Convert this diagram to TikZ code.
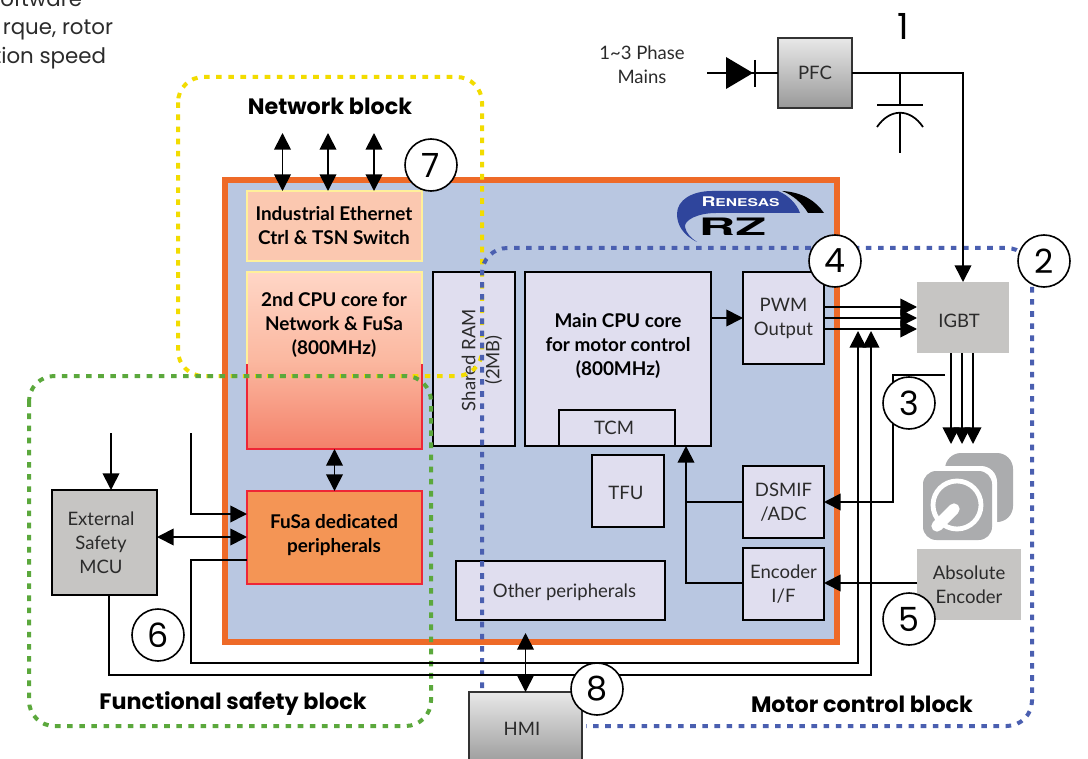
\documentclass[tikz,border=0pt]{standalone}
\usepackage{fontspec}
\usepackage{graphicx}
\setmainfont{Lato}
\newfontfamily\popf{Poppins}
\newfontfamily\heros{TeX Gyre Heros}
\usetikzlibrary{arrows.meta}
\definecolor{socfill}{HTML}{B9C7E1}
\definecolor{socedge}{HTML}{EE6A28}
\definecolor{lilac}{HTML}{E0DEEF}
\definecolor{lgray}{HTML}{C6C5C3}
\definecolor{paleyel}{HTML}{FFF09A}
\definecolor{fusared}{HTML}{EE2636}
\definecolor{fusafill}{HTML}{F49555}
\definecolor{ethfill}{HTML}{FBC8B0}
\definecolor{cputop}{HTML}{FFD6C6}
\definecolor{cpumid}{HTML}{FBB8A0}
\definecolor{cpubot}{HTML}{F4816A}
\definecolor{dotyel}{HTML}{F2DC00}
\definecolor{dotgrn}{HTML}{5BA83C}
\definecolor{dotblu}{HTML}{4A5FB0}
\definecolor{rblue}{HTML}{2F459C}
\definecolor{motorg}{HTML}{ABACAE}
\definecolor{txt}{HTML}{2B2B2B}
\tikzset{
  x=0.75pt,y=-0.75pt,
  every node/.style={inner sep=0pt,outer sep=0pt,text=txt},
  thin box/.style={draw=black,line width=1.4pt,fill=lilac},
  gray box/.style={fill=lgray},
  grad box/.style={draw=black!80,line width=1.5pt,top color=black!9,bottom color=black!40},
  body/.style={font=\fontsize{13.9}{18}\selectfont,align=center},
  strong/.style={font=\fontsize{14.2}{18}\selectfont\bfseries,align=center,text=black},
  title/.style={font=\popf\fontsize{16.7}{18}\selectfont\bfseries,text=black},
  num/.style={circle,draw=black,line width=1.2pt,fill=white,minimum size=39pt,font=\popf\fontsize{25}{25}\selectfont,text=black},
  wire/.style={draw=black,line width=1.3pt},
  tip/.tip={Triangle[length=12.5pt,width=12.5pt]},
  dotted path/.style={line width=3pt,dash pattern=on 4.2pt off 4.9pt,rounded corners=19pt},
}
\newcommand\bx[7][]{\node[#1,minimum width={(#5-#3)*0.75pt},minimum height={(#6-#4)*0.75pt}] (#2) at ({(#3+#5)/2},{(#4+#6)/2}) {#7};}
\begin{document}
\begin{tikzpicture}
\clip (0,0) rectangle (1088,759);
\fill[white] (0,0) rectangle (1088,759);
% cropped text at top left
\node[anchor=base east,font=\popf\fontsize{16}{18}\selectfont] (t1) at (82,7) {oftware};
\node[anchor=base east,font=\popf\fontsize{16}{18}\selectfont] (t2) at (113,35) {rque, rotor};
\node[anchor=base east,font=\popf\fontsize{16}{18}\selectfont] (t3) at (106,64) {tion speed};
% SoC
\bx[draw=socedge,line width=4.5pt,fill=socfill]{soc}{225}{180}{837}{642}{}
% logo
\fill[rblue] (697,242) .. controls (683,235) and (677,225) .. (677,214) .. controls (677,200) and (692,191) .. (712,191) -- (778,191) .. controls (788,195) and (797,204) .. (800,213) -- (716,213) .. controls (698,213) and (684,220) .. (685,227) .. controls (686,233) and (691,238) .. (697,242) -- cycle;
\fill[black] (782,191) .. controls (802,192) and (816,201) .. (824,213) -- (808,213) .. controls (802,203) and (793,195) .. (782,191) -- cycle;
\node[font=\heros\fontsize{10.5}{12}\selectfont\bfseries,text=white] (renesas) at (740.5,202) {\scalebox{1.38}[0.95]{R\fontsize{8.5}{10}\selectfont ENESAS}};
\node[font=\heros\fontsize{18}{18}\selectfont\bfseries,text=black] (rz) at (732.5,227) {\scalebox{2.1}[1]{RZ}};
% boxes
\bx[draw=paleyel,line width=1.4pt,fill=ethfill,strong]{eth}{247}{191}{422}{261}{}
\node[strong] (ethl) at (334,226) {Industrial Ethernet\\Ctrl \& TSN Switch};
\bx[top color=cputop,bottom color=cpubot,middle color=cpumid]{cpub}{247}{272}{422}{449}{}
\draw[draw=paleyel,line width=1.4pt] (cpub.south west |- 0,364) -- (cpub.north west) -- (cpub.north east) -- (cpub.south east |- 0,364);
\draw[draw=fusared,line width=1.4pt] (cpub.south west |- 0,364) -- (cpub.south west) -- (cpub.south east) -- (cpub.south east |- 0,364);
\node[strong] (cpubl) at (334,324.5) {2nd CPU core for\\Network \& FuSa\\(800MHz)};
\bx[draw=fusared,line width=1.4pt,fill=fusafill,strong]{fusa}{247}{491}{422}{584}{}
\node[strong] (fusal) at (334,535.5) {FuSa dedicated\\peripherals};
\bx[thin box]{ram}{433}{272}{515}{446}{}
\node[body,rotate=90] (raml) at (482,360) {Shared RAM\\(2MB)};
\bx[thin box]{main}{525}{272}{711}{446}{}
\node[strong] (mainl) at (618,345.5) {Main CPU core\\for motor control\\(800MHz)};
\bx[thin box,body]{tcm}{559}{410}{675}{446}{}
\node[body] (tcml) at (614,428) {TCM};
\bx[thin box,body]{tfu}{592}{455}{664}{527}{}
\node[body] (tful) at (626,492.5) {TFU};
\bx[thin box,body]{other}{456}{561}{665}{620}{}
\node[body] (otherl) at (564.5,592) {Other peripherals};
\bx[thin box,body]{pwm}{743}{272}{824}{364}{PWM\\Output}
\bx[thin box,body]{dsmif}{743}{466}{824}{538}{DSMIF\\/ADC}
\bx[thin box,body]{enc}{743}{548}{824}{620}{Encoder\\I/F}
\bx[gray box,body]{igbt}{917}{282}{1009}{353}{}
\node[body] (igbtl) at (959,321) {IGBT};
\bx[gray box,body]{abs}{917}{549}{1021}{620}{Absolute\\Encoder}
\bx[grad box,body]{pfc}{778}{38}{852}{108}{PFC}
\bx[grad box,body]{hmi}{469}{692}{582}{766}{}
\node[body] (hmil) at (522,729) {HMI};
\bx[draw=black,line width=1.5pt,fill=lgray,body]{mcu}{52}{490}{157}{595}{}
\node[body] (mcul) at (101,543) {External\\Safety\\MCU};
% text outside boxes
\node[body] (mains) at (642,64.5) {1\textasciitilde3 Phase\\Mains};
\node[font=\popf\fontsize{27}{27}\selectfont,text=black] (one) at (903,26) {1};
% motor icon
\fill[motorg,rounded corners=12pt] (945,453) rectangle (1013,522);
\fill[white,rounded corners=12pt] (918,466) rectangle (997,545);
\fill[motorg,rounded corners=10pt] (923,471) rectangle (992,540);
\node[circle,draw=white,line width=3.6pt,minimum size=36pt] (rotor) at (957,505) {};
\draw[white,line width=8.5pt,line cap=round] (937,526) -- (954,509);
% dotted regions
\draw[dotyel,dotted path] (178,77) rectangle (482,376);
\draw[dotgrn,dotted path] (29,376) rectangle (431,726);
\draw[dotblu,dotted path] (482,688) -- (482,248) -- (1032,248) -- (1032,726) -- (586,726);
% power path
\coordinate (mainsin) at (707,73);
\draw[wire] (mainsin) -- (pfc.west);
\fill[black] (726,57) -- (753,73) -- (726,89) -- cycle;
\draw[wire] (755,60) -- (755,87);
\coordinate (capin) at (900,73);
\coordinate (capgnd) at (900,153);
\draw[wire,-tip] (pfc.east) -- (igbt.north |- pfc.east) -- (igbt.north);
\draw[wire] (capin) -- (900,105);
\draw[wire] (877,105) -- (923,105);
\draw[wire] (877,127) .. controls (890,108) and (910,108) .. (923,127);
\draw[wire] (900,113) -- (capgnd);
% network arrows
\coordinate (n1) at (282.5,133);
\coordinate (n2) at (328,133);
\coordinate (n3) at (374,133);
\foreach \n in {n1,n2,n3}{\draw[wire,tip-tip] (\n) -- (\n |- eth.north);}
% CPU2 - FuSa
\draw[wire,tip-tip] (cpub.south) -- (fusa.north);
% FuSa left side
\coordinate (fin) at (191,433);
\coordinate (extin) at (111,433);
\draw[wire,-tip] (fin) -- (191,514) -- (fusa.west |- 0,514);
\draw[wire,tip-tip] (mcu.east |- 0,537) -- (fusa.west |- 0,537);
\draw[wire,-tip] (extin) -- (extin |- mcu.north);
\draw[wire,-tip] (fusa.west |- 0,560) -- (191,560) -- (191,663) -- (858,663) -- (858,331);
\draw[wire,-tip] (109,595) -- (109,675) -- (871,675) -- (871,331);
% main - pwm - igbt
\draw[wire,-tip] (main.east |- pwm.west) -- (pwm.west);
\foreach \y in {307,318,329}{\draw[wire,-tip] (pwm.east |- 0,\y) -- (igbt.west |- 0,\y);}
% igbt - motor
\foreach \x in {951,962,973}{\draw[wire,-tip] (\x,353) -- (\x,444);}
% sensing
\draw[wire,-tip] (945,375) -- (893,375) -- (893,502) -- (dsmif.east |- 0,502);
% encoder
\draw[wire,-tip] (abs.west |- 0,583) -- (enc.east |- 0,583);
\draw[wire,-tip] (enc.west |- 0,583) -- (686,583) -- (686,446);
\draw[wire] (dsmif.west |- 0,502) -- (686,502);
% HMI
\coordinate (othtip) at (525.5,633);
\draw[wire,tip-tip] (othtip) -- (hmi.north);
% block titles
\node[title] (tnet) at (330,106) {Network block};
\node[title] (tfs) at (233,704) {Functional safety block};
\node[title] (tmc) at (862,704) {Motor control block};
% numbers
\node[num] (c7) at (431,165) {7};
\node[num] (c4) at (835,261) {4};
\node[num] (c2) at (1044,261) {2};
\node[num] (c3) at (909,403) {3};
\node[num] (c5) at (909,619) {5};
\node[num] (c8) at (597,689) {8};
\node[num] (c6) at (158,635) {6};
\end{tikzpicture}
\end{document}
